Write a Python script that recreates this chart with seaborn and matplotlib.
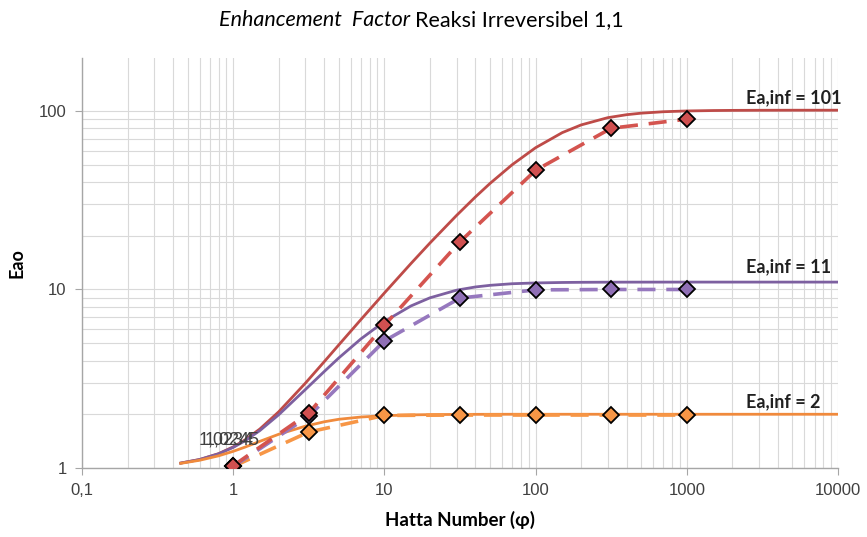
import numpy as np
import pandas as pd
import seaborn as sns
import matplotlib.pyplot as plt
from matplotlib.ticker import FixedLocator, FuncFormatter, LogLocator, NullFormatter

# solid curves
ha_line = [0.45, 0.6, 0.8, 1, 1.2, 1.5, 2, 3, 4, 5, 7, 10, 15, 20, 30, 40, 50,
           70, 100, 150, 200, 300, 400, 500, 700, 1000, 1500, 2000, 3000,
           5000, 10000]
ea_101 = [1.066, 1.116, 1.203, 1.313, 1.439, 1.653, 2.065, 2.985, 3.94, 4.90,
          6.79, 9.56, 13.99, 18.2, 25.98, 33.0, 39.3, 50.0, 62.25, 75.6, 83.5,
          91.7, 95.3, 97.2, 99.0, 100.0, 100.55, 100.75, 100.89, 100.96,
          100.99]
ea_11 = [1.065, 1.115, 1.20, 1.304, 1.422, 1.62, 1.987, 2.75, 3.47, 4.14,
         5.29, 6.62, 8.09, 8.98, 9.91, 10.33, 10.55, 10.77, 10.88, 10.945,
         10.97, 10.987, 10.992, 10.995, 10.998, 11.0, 11.0, 11.0, 11.0, 11.0,
         11.0]
ea_2 = [1.062, 1.105, 1.17, 1.24, 1.31, 1.41, 1.545, 1.715, 1.815, 1.875,
        1.93, 1.963, 1.984, 1.991, 1.996, 1.998, 1.999, 2.0, 2.0, 2.0, 2.0,
        2.0, 2.0, 2.0, 2.0, 2.0, 2.0, 2.0, 2.0, 2.0, 2.0]

# numerical points (dashed with markers)
ha_pts = [1, 3.16, 10, 31.6, 100, 316, 1000]
num_101 = [1.03, 2.03, 6.3, 18.5, 46.5, 80, 90]
num_11 = [1.02, 1.95, 5.15, 8.95, 9.95, 10.0, 10.0]
num_2 = [1.02, 1.59, 1.97, 1.98, 1.98, 1.98, 1.98]

fig = plt.figure(figsize=(8.67, 5.37), dpi=100)
ax = fig.add_axes([82 / 867, 1 - 468 / 537, (838 - 82) / 867, (468 - 58) / 537])

solid = [(ea_101, "#BE4B48"), (ea_11, "#7D60A0"), (ea_2, "#F08A3C")]
for vals, col in solid:
    sns.lineplot(x=ha_line, y=vals, ax=ax, color=col, linewidth=2.0, zorder=3)

dashed = [(num_2, "#F79646", "#F79646"), (num_11, "#9678BE", "#8F6FB5"),
          (num_101, "#D4544F", "#D05050")]
for vals, col, mfc in dashed:
    sns.lineplot(x=ha_pts, y=vals, ax=ax, color=col, linewidth=2.6,
                 dashes=False, linestyle=(0, (5, 3)), marker="D", markersize=8,
                 markerfacecolor=mfc, markeredgecolor="black",
                 markeredgewidth=1.3, zorder=4)

ax.set_xscale("log")
ax.set_yscale("log")
ax.set_xlim(0.1, 10000)
ax.set_ylim(1, 198)

ax.xaxis.set_major_locator(FixedLocator([0.1, 1, 10, 100, 1000, 10000]))
ax.yaxis.set_major_locator(FixedLocator([1, 10, 100]))
ax.xaxis.set_minor_locator(LogLocator(base=10, subs=np.arange(2, 10)))
ax.yaxis.set_minor_locator(LogLocator(base=10, subs=np.arange(2, 10)))
ax.xaxis.set_minor_formatter(NullFormatter())
ax.yaxis.set_minor_formatter(NullFormatter())
fmt = FuncFormatter(lambda v, p: ("%g" % v).replace(".", ","))
ax.xaxis.set_major_formatter(fmt)
ax.yaxis.set_major_formatter(fmt)

ax.grid(True, which="both", color="#D9D9D9", linewidth=0.8)
ax.set_axisbelow(True)
for s in ["top", "right"]:
    ax.spines[s].set_visible(False)
for s in ["left", "bottom"]:
    ax.spines[s].set_color("#A6A6A6")
    ax.spines[s].set_linewidth(1.0)
ax.tick_params(which="major", length=5, color="#A6A6A6", labelsize=12,
               labelcolor="#404040", pad=6)
ax.tick_params(which="minor", length=0)
for lab in ax.get_xticklabels() + ax.get_yticklabels():
    lab.set_family("Liberation Sans")

ax.set_xlabel("Hatta Number (φ)", fontsize=13.5, fontweight="bold",
              family=["Lato", "DejaVu Sans"], labelpad=9)
ax.set_ylabel("Eao", fontsize=13, fontweight="bold",
              family=["Lato", "DejaVu Sans"], labelpad=10)

lbl = dict(fontsize=13, fontweight="bold", family=["Lato", "DejaVu Sans"],
           color="#202020", va="center", ha="left")
ax.text(2450, 118, "Ea,inf = 101", **lbl)
ax.text(2450, 13.4, "Ea,inf = 11", **lbl)
ax.text(2450, 2.34, "Ea,inf = 2", **lbl)

ax.text(0.59, 1.43, "1,0234", fontsize=13, color="#404040", va="center",
        family="Liberation Sans", zorder=5)
ax.text(0.645, 1.43, "1,0245", fontsize=13, color="#404040", va="center",
        family="Liberation Sans", zorder=5)

fig.text(410 / 867, 1 - 20 / 537, "Enhancement  Factor", fontsize=15.5,
         style="italic", family=["Lato", "DejaVu Sans"], ha="right", va="center")
fig.text(415 / 867, 1 - 20 / 537, "Reaksi Irreversibel 1,1", fontsize=15.5,
         family=["Lato", "DejaVu Sans"], ha="left", va="center")

fig.savefig("out.png", dpi=100)
